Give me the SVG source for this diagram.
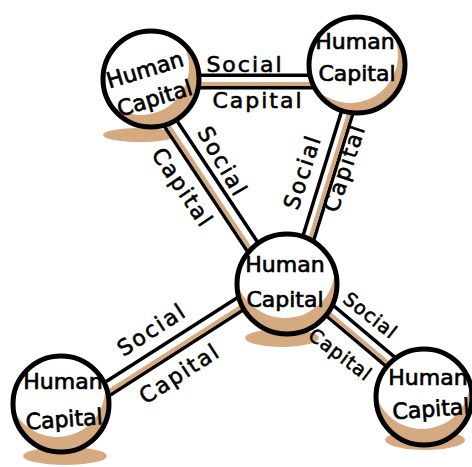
<svg xmlns="http://www.w3.org/2000/svg" width="472" height="467" viewBox="0 0 472 467">
<style>
.bg{fill:#ffffff}
.sh{fill:#D6AA80}
.tb{fill:#000000}
.tw{fill:#ffffff}
.tt{fill:#D6AA80}
.tan{fill:#D6AA80}
.wh{fill:#ffffff}
.ol{fill:none;stroke:#000000;stroke-width:5}
.n{font-family:"DejaVu Sans",sans-serif;font-size:22px;fill:#000000;stroke:#000000;stroke-width:0.7px;text-anchor:middle}
.l{font-family:"DejaVu Sans",sans-serif;font-size:22px;fill:#000000;stroke:#000000;stroke-width:0.6px;text-anchor:middle;letter-spacing:2px}
.ls{font-family:"DejaVu Sans",sans-serif;font-size:19px;fill:#000000;stroke:#000000;stroke-width:0.6px;text-anchor:middle;letter-spacing:1px}
</style>
<defs>
<clipPath id="c48" clipPathUnits="userSpaceOnUse"><circle cx="0" cy="0" r="48"/></clipPath>
<clipPath id="c50" clipPathUnits="userSpaceOnUse"><circle cx="0" cy="0" r="50"/></clipPath>
</defs>
<rect class="bg" x="0" y="0" width="472" height="467"/>

<g id="shadows">
<ellipse class="sh" cx="140" cy="135" rx="37" ry="7"/>
<ellipse class="sh" cx="282" cy="338" rx="37" ry="9"/>
<ellipse class="sh" cx="65" cy="456" rx="42" ry="9"/>
<ellipse class="sh" cx="425" cy="440" rx="40" ry="10"/>
</g>

<g id="connectors">
<g transform="translate(190,81.5) rotate(0)">
<rect class="tb" x="0" y="-8" width="130" height="16"/>
<rect class="tw" x="0" y="-4.5" width="130" height="9"/>
<rect class="tt" x="0" y="0.5" width="130" height="4"/>
</g>
<g transform="translate(161,109) rotate(56.4)">
<rect class="tb" x="0" y="-8.5" width="181" height="17"/>
<rect class="tw" x="0" y="-5" width="181" height="10"/>
<rect class="tt" x="0" y="1" width="181" height="4"/>
</g>
<g transform="translate(304,252) rotate(-72.8)">
<rect class="tb" x="0" y="-7.5" width="169" height="15"/>
<rect class="tw" x="0" y="-4" width="169" height="8"/>
<rect class="tt" x="0" y="0" width="169" height="4"/>
</g>
<g transform="translate(93,398) rotate(-32.6)">
<rect class="tb" x="0" y="-8.5" width="196" height="17"/>
<rect class="tw" x="0" y="-5" width="196" height="10"/>
<rect class="tt" x="0" y="1" width="196" height="4"/>
</g>
<g transform="translate(316,299) rotate(40.1)">
<rect class="tb" x="0" y="-8" width="110" height="16"/>
<rect class="tw" x="0" y="-4.5" width="110" height="9"/>
<rect class="tt" x="0" y="0.5" width="110" height="4"/>
</g>
<text class="l" x="245" y="72">Social</text>
<text class="l" x="258" y="108">Capital</text>
<text class="l" transform="translate(222,162) rotate(60)" x="0" y="7">Social</text>
<text class="l" transform="translate(182,188) rotate(56)" x="0" y="7">Capital</text>
<text class="l" transform="translate(303,172) rotate(-72)" x="0" y="7">Social</text>
<text class="l" transform="translate(345,168) rotate(-72)" x="0" y="7">Capital</text>
<text class="l" transform="translate(152,330) rotate(-33)" x="0" y="7">Social</text>
<text class="l" transform="translate(180,374) rotate(-33)" x="0" y="7">Capital</text>
<text class="ls" transform="translate(370,316) rotate(38)" x="0" y="6">Social</text>
<text class="ls" transform="translate(340,355) rotate(37)" x="0" y="6">Capital</text>
</g>

<g id="nodeA" transform="translate(151,79)">
<circle class="tan" r="48"/>
<circle class="wh" cx="-10" cy="-12" r="48" clip-path="url(#c48)"/>
<circle class="ol" r="48"/>
<text class="n" transform="rotate(-17)" x="-3" y="-3">Human</text>
<text class="n" transform="rotate(-17)" x="-2" y="27">Capital</text>
</g>

<g id="nodeB" transform="translate(357,65)">
<circle class="tan" r="48"/>
<circle class="wh" cx="-7" cy="-10" r="48" clip-path="url(#c48)"/>
<circle class="ol" r="48"/>
<text class="n" x="-2" y="-16">Human</text>
<text class="n" x="0" y="16">Capital</text>
</g>

<g id="nodeC" transform="translate(287,284)">
<circle class="tan" r="50"/>
<circle class="wh" cx="-2" cy="-16" r="50" clip-path="url(#c50)"/>
<circle class="ol" r="50"/>
<text class="n" x="-2" y="-12">Human</text>
<text class="n" x="-2" y="23">Capital</text>
</g>

<g id="nodeD" transform="translate(61,404)">
<circle class="tan" r="48"/>
<circle class="wh" cx="-4" cy="-15" r="48" clip-path="url(#c48)"/>
<circle class="ol" r="48"/>
<text class="n" x="2" y="-15">Human</text>
<text class="n" transform="rotate(-4)" x="2" y="23">Capital</text>
</g>

<g id="nodeE" transform="translate(424,397)">
<circle class="tan" r="48"/>
<circle class="wh" cx="-2" cy="-16" r="48" clip-path="url(#c48)"/>
<circle class="ol" r="48"/>
<text class="n" x="4" y="-12">Human</text>
<text class="n" transform="rotate(-4)" x="6" y="20">Capital</text>
</g>
</svg>
